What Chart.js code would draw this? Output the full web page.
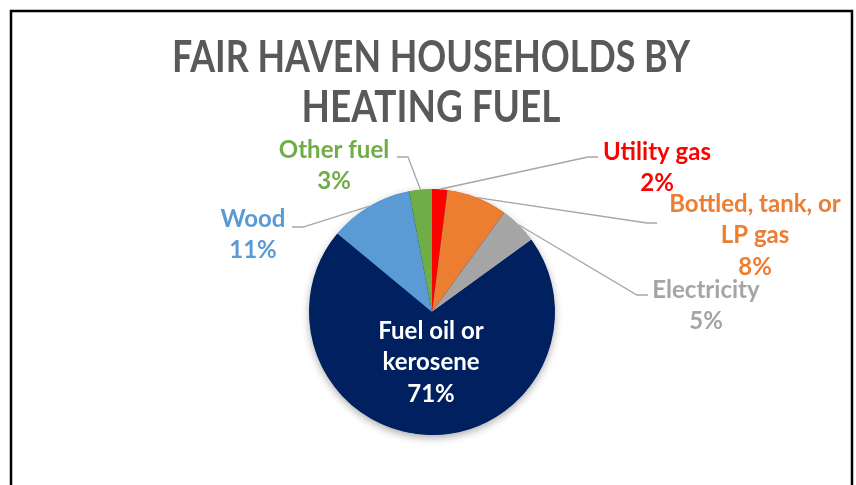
<!DOCTYPE html>
<html>
<head>
<meta charset="utf-8">
<script src="https://cdn.jsdelivr.net/npm/chart.js@4.4.0/dist/chart.umd.min.js"></script>
<style>
  html, body { margin: 0; padding: 0; background: #fff; }
  #wrap { width: 856px; height: 485px; position: relative; }
</style>
</head>
<body>
<div id="wrap"><canvas id="pie" width="856" height="485"></canvas></div>
<script>
// données du graphique
const categories = ['Utility gas', 'Bottled, tank, or LP gas', 'Electricity', 'Fuel oil or kerosene', 'Wood', 'Other fuel'];
const shares = [2, 8, 5, 71, 11, 3];
const sliceColors = ['#FF0000', '#ED7D31', '#A5A5A5', '#002060', '#5B9BD5', '#70AD47'];
const labelColors = ['#FF0000', '#ED7D31', '#A5A5A5', '#FFFFFF', '#5B9BD5', '#70AD47'];
const labelLines = [
    ['Utility gas'],
    ['Bottled, tank, or', 'LP gas'],
    ['Electricity'],
    ['Fuel oil or', 'kerosene'],
    ['Wood'],
    ['Other fuel']
];
const titleLines = ['FAIR HAVEN HOUSEHOLDS BY', 'HEATING FUEL'];

// placement des étiquettes (x, y du premier ligne) et coudes des traits
const labelPos = [
    { x: 657, y: 152, elbow: [[588, 157], [598, 157]] },
    { x: 755, y: 204, elbow: [[647, 223], [657, 223]] },
    { x: 706, y: 290, elbow: [[637, 295], [648, 295]] },
    { x: 431, y: 331, elbow: null },
    { x: 253, y: 219, elbow: [[303, 227], [292, 227]] },
    { x: 334, y: 150, elbow: [[408, 157], [397, 157]] }
];
const lineGap = 31.5;
const labelFont = 'bold 24px Lato';

function fitText(ctx, text, cx, cy, width) {
    const w = ctx.measureText(text).width;
    const s = width / w;
    ctx.save();
    ctx.translate(cx, cy);
    ctx.scale(s, 1);
    ctx.fillText(text, 0, 0);
    ctx.restore();
}

const decor = {
    id: 'decor',
    beforeDatasetsDraw(chart) {
        const ctx = chart.ctx;
        const arc = chart.getDatasetMeta(0).data[0];
        // cadre
        ctx.save();
        ctx.strokeStyle = '#000';
        ctx.lineWidth = 2.5;
        ctx.beginPath();
        ctx.moveTo(11, 490);
        ctx.lineTo(11, 11);
        ctx.lineTo(852, 11);
        ctx.lineTo(852, 490);
        ctx.stroke();
        // ombre du camembert
        ctx.shadowColor = 'rgba(0,0,0,0.35)';
        ctx.shadowBlur = 8;
        ctx.shadowOffsetY = 3;
        ctx.fillStyle = '#002060';
        ctx.beginPath();
        ctx.arc(arc.x, arc.y, arc.outerRadius - 0.5, 0, Math.PI * 2);
        ctx.fill();
        ctx.restore();

        // titre
        ctx.save();
        ctx.fillStyle = '#595959';
        ctx.font = 'bold 43px Lato';
        ctx.textAlign = 'center';
        ctx.textBaseline = 'middle';
        fitText(ctx, titleLines[0], 431, 58, 518);
        fitText(ctx, titleLines[1], 431, 108, 259);
        ctx.restore();
    },
    afterDatasetsDraw(chart) {
        const ctx = chart.ctx;
        const meta = chart.getDatasetMeta(0);
        ctx.save();
        ctx.font = labelFont;
        ctx.textAlign = 'center';
        ctx.textBaseline = 'middle';
        meta.data.forEach((arc, i) => {
            const p = labelPos[i];
            if (p.elbow) {
                const mid = (arc.startAngle + arc.endAngle) / 2;
                const sx = arc.x + Math.cos(mid) * arc.outerRadius;
                const sy = arc.y + Math.sin(mid) * arc.outerRadius;
                ctx.strokeStyle = '#A6A6A6';
                ctx.lineWidth = 1.3;
                ctx.beginPath();
                ctx.moveTo(sx, sy);
                ctx.lineTo(p.elbow[0][0], p.elbow[0][1]);
                ctx.lineTo(p.elbow[1][0], p.elbow[1][1]);
                ctx.stroke();
            }
            ctx.fillStyle = labelColors[i];
            const lines = labelLines[i].concat([shares[i] + '%']);
            lines.forEach((t, k) => ctx.fillText(t, p.x, p.y + k * lineGap));
        });
        ctx.restore();
    }
};

new Chart(document.getElementById('pie'), {
    type: 'pie',
    data: {
        labels: categories,
        datasets: [{
            data: shares,
            backgroundColor: sliceColors,
            borderWidth: 0
        }]
    },
    options: {
        responsive: false,
        animation: false,
        layout: { padding: { left: 309, right: 301, top: 189, bottom: 50 } },
        plugins: {
            legend: { display: false },
            tooltip: { enabled: false },
            title: { display: false }
        }
    },
    plugins: [decor]
});
</script>
</body>
</html>
